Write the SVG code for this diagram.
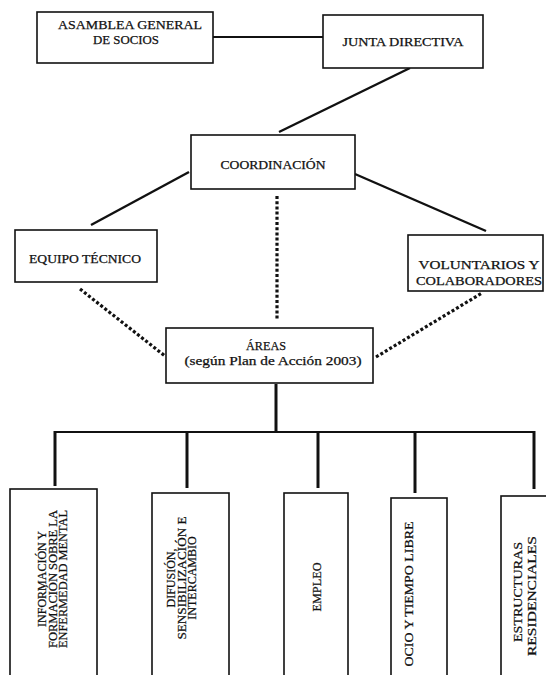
<svg xmlns="http://www.w3.org/2000/svg" width="546" height="675" viewBox="0 0 546 675">
<style>
  .box { fill: #fff; stroke: #111; stroke-width: 1.6; }
  .t { font-family: "Liberation Serif", "Times New Roman", serif; font-size: 12.5px; fill: #111; stroke: #111; stroke-width: 0.25; text-anchor: middle; }
  .rt { font-family: "Liberation Serif", "Times New Roman", serif; font-size: 12px; fill: #111; stroke: #111; stroke-width: 0.25; text-anchor: middle; }
  .solid { stroke: #111; stroke-width: 2.4; fill: none; }
  .thin { stroke: #111; stroke-width: 2; fill: none; }
  .dot { stroke: #111; stroke-width: 3.2; fill: none; stroke-dasharray: 3 2.2; }
  .tree { stroke: #111; stroke-width: 3; fill: none; }
</style>
<rect width="546" height="675" fill="#fff"/>
<g id="connectors">
  <line class="thin" x1="213" y1="37" x2="323" y2="37"/>
  <line class="solid" x1="410" y1="68" x2="279" y2="132"/>
  <line class="solid" x1="189" y1="172" x2="91" y2="225"/>
  <line class="solid" x1="355" y1="174" x2="486" y2="231"/>
  <line class="dot" x1="277" y1="196" x2="277" y2="319"/>
  <line class="dot" x1="80" y1="289" x2="165" y2="356"/>
  <line class="dot" x1="376" y1="357" x2="482" y2="293"/>
  <line class="tree" x1="276" y1="384" x2="276" y2="433"/>
  <line class="thin" x1="54" y1="432" x2="535" y2="432"/>
  <line class="tree" x1="55" y1="431" x2="55" y2="486"/>
  <line class="tree" x1="187" y1="431" x2="187" y2="488"/>
  <line class="tree" x1="318" y1="431" x2="318" y2="488"/>
  <line class="tree" x1="415" y1="431" x2="415" y2="493"/>
  <line class="tree" x1="534" y1="431" x2="534" y2="489"/>
</g>
<g id="asamblea">
  <rect class="box" x="37" y="12" width="176" height="51"/>
  <text class="t" x="130" y="29" textLength="144" lengthAdjust="spacingAndGlyphs">ASAMBLEA GENERAL</text>
  <text class="t" x="126" y="44" textLength="66" lengthAdjust="spacingAndGlyphs">DE SOCIOS</text>
</g>
<g id="junta">
  <rect class="box" x="323" y="15" width="160" height="53"/>
  <text class="t" x="403" y="46" textLength="121" lengthAdjust="spacingAndGlyphs">JUNTA DIRECTIVA</text>
</g>
<g id="coordinacion">
  <rect class="box" x="191" y="135" width="164" height="54"/>
  <text class="t" x="273" y="169" textLength="105" lengthAdjust="spacingAndGlyphs">COORDINACIÓN</text>
</g>
<g id="equipo">
  <rect class="box" x="15" y="230" width="142" height="52"/>
  <text class="t" x="85" y="263" textLength="112" lengthAdjust="spacingAndGlyphs">EQUIPO TÉCNICO</text>
</g>
<g id="voluntarios">
  <rect class="box" x="408" y="235" width="135" height="56"/>
  <text class="t" x="479" y="269" textLength="121" lengthAdjust="spacingAndGlyphs">VOLUNTARIOS Y</text>
  <text class="t" x="479" y="285" textLength="126" lengthAdjust="spacingAndGlyphs">COLABORADORES</text>
</g>
<g id="areas">
  <rect class="box" x="166" y="328" width="207" height="55"/>
  <text class="t" x="266" y="350" textLength="40" lengthAdjust="spacingAndGlyphs">ÁREAS</text>
  <text class="t" x="273" y="365" textLength="177" lengthAdjust="spacingAndGlyphs">(según Plan de Acción 2003)</text>
</g>
<g id="informacion">
  <rect class="box" x="10" y="489" width="87" height="200"/>
  <text class="rt" transform="translate(46,579) rotate(-90)">INFORMACIÓN Y</text>
  <text class="rt" transform="translate(56.5,579) rotate(-90)" textLength="138" lengthAdjust="spacingAndGlyphs">FORMACIÓN SOBRE LA</text>
  <text class="rt" transform="translate(67,579) rotate(-90)" textLength="138" lengthAdjust="spacingAndGlyphs">ENFERMEDAD MENTAL</text>
</g>
<g id="difusion">
  <rect class="box" x="152" y="493" width="77" height="200"/>
  <text class="rt" transform="translate(175,578) rotate(-90)">DIFUSIÓN,</text>
  <text class="rt" transform="translate(185.5,578) rotate(-90)" textLength="123" lengthAdjust="spacingAndGlyphs">SENSIBILIZACIÓN E</text>
  <text class="rt" transform="translate(196,578) rotate(-90)">INTERCAMBIO</text>
</g>
<g id="empleo">
  <rect class="box" x="284" y="493" width="64" height="200"/>
  <text class="rt" transform="translate(321,587) rotate(-90)" textLength="49" lengthAdjust="spacingAndGlyphs">EMPLEO</text>
</g>
<g id="ocio">
  <rect class="box" x="391" y="498" width="56" height="200"/>
  <text class="rt" transform="translate(412.5,594) rotate(-90)" textLength="145" lengthAdjust="spacingAndGlyphs">OCIO Y TIEMPO LIBRE</text>
</g>
<g id="estructuras">
  <rect class="box" x="501" y="496" width="60" height="200"/>
  <text class="rt" transform="translate(522,592) rotate(-90)" textLength="100" lengthAdjust="spacingAndGlyphs">ESTRUCTURAS</text>
  <text class="rt" transform="translate(536,596) rotate(-90)" textLength="120" lengthAdjust="spacingAndGlyphs">RESIDENCIALES</text>
</g>
</svg>
